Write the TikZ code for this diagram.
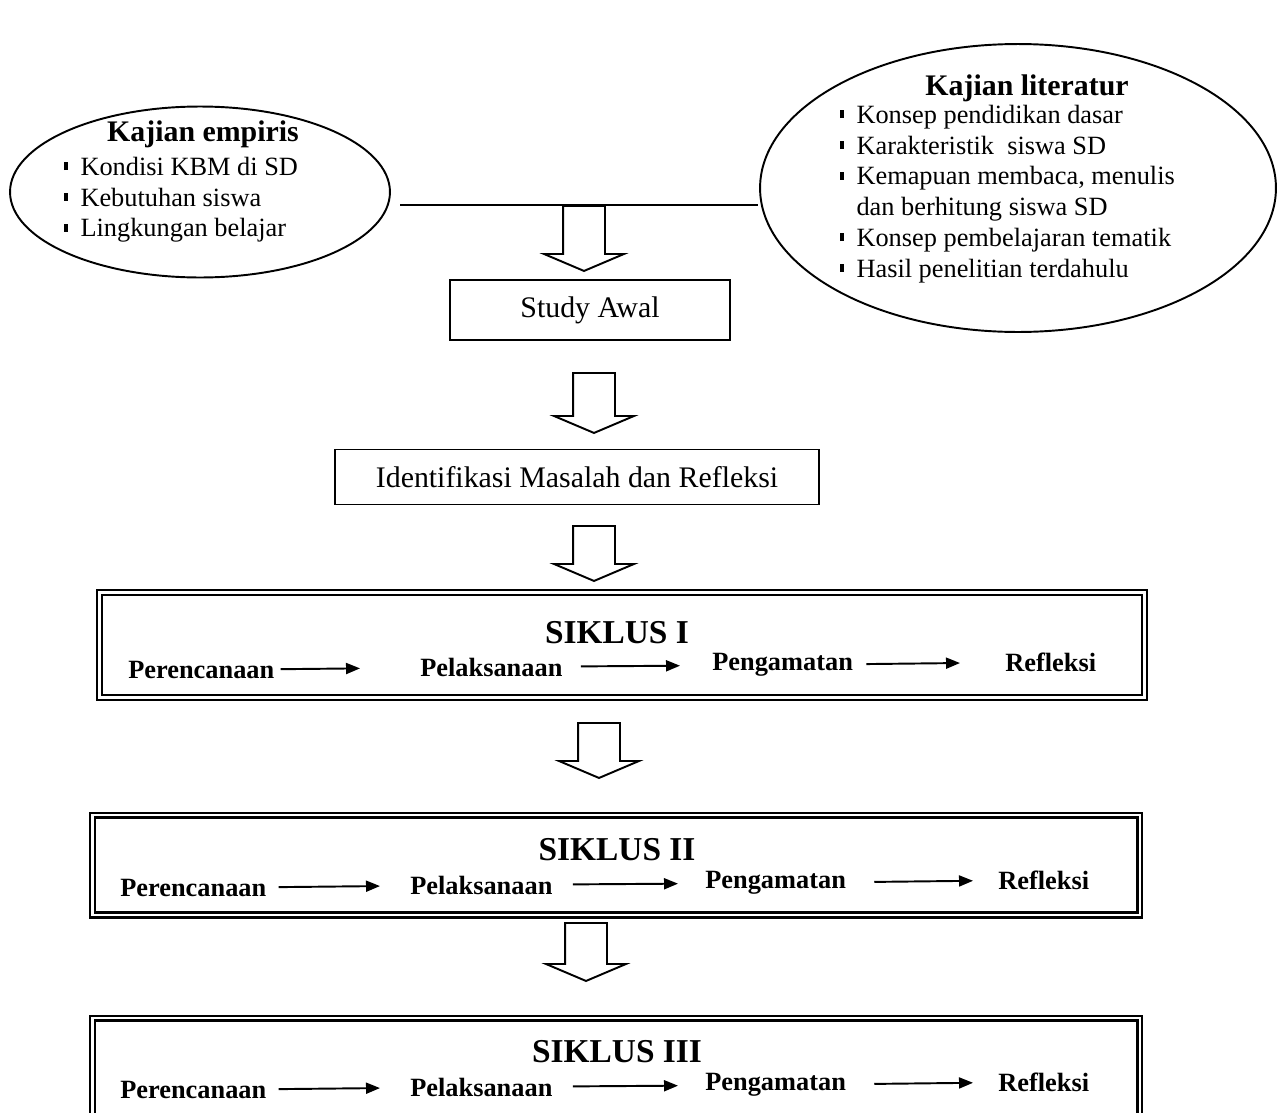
\documentclass[tikz,border=0pt]{standalone}
\usepackage{fontspec}
\setmainfont{Liberation Serif}
\usetikzlibrary{shapes.geometric,shapes.arrows,arrows.meta}

\newcommand{\titik}{\rule[0.2em]{2.2pt}{4.5pt}}

\begin{document}
\begin{tikzpicture}[x=0.02cm,y=-0.02cm]
        \tikzstyle{every node}=[inner sep=0pt, text=black]
        \tikzstyle{elips}=[ellipse, draw=black, line width=1.1pt]
        \tikzstyle{kotak}=[rectangle, draw=black, line width=1.1pt, font=\fontsize{17}{20}\selectfont]
        \tikzstyle{siklus}=[rectangle, draw=black, double, line width=1.2pt, double distance=1.6pt]
        \tikzstyle{panah}=[single arrow, draw=black, line width=1.1pt, shape border rotate=270, single arrow head extend=0.38cm, single arrow tip angle=134, inner sep=0.4cm, anchor=tail]
        \tikzstyle{judul}=[font=\fontsize{17}{20}\selectfont\bfseries]
        \tikzstyle{butir}=[font=\fontsize{15}{17.5}\selectfont, anchor=west]
        \tikzstyle{nama}=[font=\fontsize{19}{22}\selectfont\bfseries]
        \tikzstyle{tahap}=[font=\fontsize{15}{18}\selectfont\bfseries, anchor=west]
        \tikzstyle{langkah}=[-{Triangle[length=0.28cm,width=0.22cm]}, line width=1.1pt]

        \useasboundingbox (0,0) rectangle (1280,1112);

        % kajian empiris dan literatur
        \node[elips, minimum width=7.6cm, minimum height=3.42cm] (empiris) at (200,192) {};
        \node[judul] (jempiris) at (203,134) {Kajian empiris};
        \node[butir] (bempiris) at (64,200) {\begin{tabular}{@{}l@{\hspace{7pt}}l@{}}
            \titik & Kondisi KBM di SD \\ \titik & Kebutuhan siswa \\ \titik & Lingkungan belajar \end{tabular}};

        \node[elips, minimum width=10.32cm, minimum height=5.76cm] (literatur) at (1018,188) {};
        \node[judul] (jliteratur) at (1027,88) {Kajian literatur};
        \node[butir] (bliteratur) at (840,194) {\begin{tabular}{@{}l@{\hspace{7pt}}l@{}}
            \titik & Konsep pendidikan dasar \\ \titik & Karakteristik\ \ siswa SD \\
            \titik & Kemapuan membaca, menulis \\ & dan berhitung siswa SD \\
            \titik & Konsep pembelajaran tematik \\ \titik & Hasil penelitian terdahulu \end{tabular}};

        \coordinate (gkiri) at (400,205);
        \coordinate (gkanan) at (758,205);
        \draw[line width=1pt] (gkiri) -- (gkanan);

        % alur
        \node[panah, minimum height=1.3cm] (pnh1) at (584,205) {};
        \node[kotak, minimum width=5.6cm, minimum height=1.2cm] (awal) at (590,310) {Study Awal};
        \node[panah, minimum height=1.2cm] (pnh2) at (594,372) {};
        \node[kotak, minimum width=9.7cm, minimum height=1.1cm] (masalah) at (577,477) {Identifikasi Masalah dan Refleksi};
        \node[panah, minimum height=1.1cm] (pnh3) at (594,525) {};

        % siklus I
        \node[siklus, minimum width=20.9cm, minimum height=2.1cm] (s1) at (622,645) {};
        \node[nama] (n1) at (617,633) {SIKLUS I};
        \node[tahap] (rc1) at (128,670) {Perencanaan};
        \node[tahap] (pl1) at (420,667) {Pelaksanaan};
        \node[tahap] (pg1) at (712,665) {Pengamatan};
        \node[tahap] (rf1) at (1005,662) {Refleksi};
        \draw[langkah, shorten <=0.12cm, shorten >=1.2cm] (rc1) -- (pl1);
        \draw[langkah, shorten <=0.36cm, shorten >=0.64cm] (pl1) -- (pg1);
        \draw[langkah, shorten <=0.26cm, shorten >=0.9cm] (pg1) -- (rf1);

        \node[panah, minimum height=1.1cm] (pnh4) at (599,722) {};

        % siklus II
        \node[siklus, minimum width=20.96cm, minimum height=2cm] (s2) at (616,865) {};
        \node[nama] (n2) at (617,850) {SIKLUS II};
        \node[tahap] (rc2) at (120,888) {Perencanaan};
        \node[tahap] (pl2) at (410,885) {Pelaksanaan};
        \node[tahap] (pg2) at (705,883) {Pengamatan};
        \node[tahap] (rf2) at (998,880) {Refleksi};
        \draw[langkah, shorten <=0.24cm, shorten >=0.6cm] (rc2) -- (pl2);
        \draw[langkah, shorten <=0.4cm, shorten >=0.54cm] (pl2) -- (pg2);
        \draw[langkah, shorten <=0.56cm, shorten >=0.5cm] (pg2) -- (rf2);

        \node[panah, minimum height=1.16cm] (pnh5) at (586,922) {};

        % siklus III
        \node[siklus, minimum width=20.96cm, minimum height=2cm] (s3) at (616,1068) {};
        \node[nama] (n3) at (617,1052) {SIKLUS III};
        \node[tahap] (rc3) at (120,1090) {Perencanaan};
        \node[tahap] (pl3) at (410,1087) {Pelaksanaan};
        \node[tahap] (pg3) at (705,1085) {Pengamatan};
        \node[tahap] (rf3) at (998,1082) {Refleksi};
        \draw[langkah, shorten <=0.24cm, shorten >=0.6cm] (rc3) -- (pl3);
        \draw[langkah, shorten <=0.4cm, shorten >=0.54cm] (pl3) -- (pg3);
        \draw[langkah, shorten <=0.56cm, shorten >=0.5cm] (pg3) -- (rf3);
    \end{tikzpicture}
\end{document}
